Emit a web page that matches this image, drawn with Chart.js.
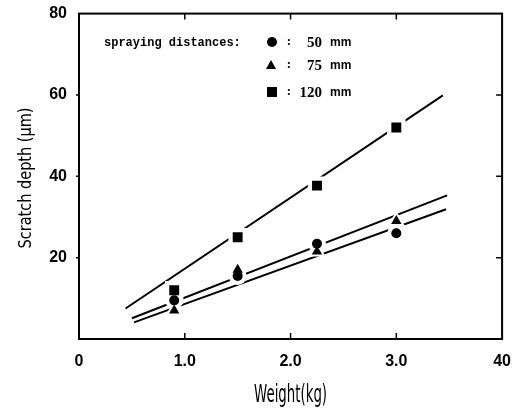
<!DOCTYPE html>
<html lang="en">
<head>
  <meta charset="UTF-8" />
  <title>Scratch depth vs Weight</title>
  <script src="https://cdn.jsdelivr.net/npm/chart.js"></script>
  <style>
    body { margin: 0; background: #fff; }
    canvas { display: block; }
  </style>
</head>
<body>
  <canvas id="scratchChart" width="516" height="414"></canvas>
  <script>
    // measured points
    const weights = [0.9, 1.5, 2.25, 3.0];
    const depth50 = [9.5, 15.5, 23.4, 26];
    const depth75 = [7, 17, 21.5, 29];
    const depth120 = [12, 25, 37.7, 52];

    // fitted straight lines (end points)
    const fit50X = [0.52, 3.47];
    const fit50Y = [4.1, 31.9];
    const fit75X = [0.5, 3.48];
    const fit75Y = [5.1, 35.3];
    const fit120X = [0.44, 3.44];
    const fit120Y = [7.5, 59.9];

    const xTickLabels = ['0', '1.0', '2.0', '3.0', '40'];
    const yTickLabels = ['', '20', '40', '60', '80'];
    const legendLabels = ['50', '75', '120'];

    const pts = (xs, ys) => xs.map((x, i) => ({ x: x, y: ys[i] }));

    function lineSet(xs, ys) {
      return { type: 'line', data: pts(xs, ys), borderColor: '#000', borderWidth: 2,
               pointRadius: 0, fill: false, order: 3 };
    }
    // white blot under each marker, so the fitted lines break around it
    function haloSet(ys, style, r) {
      return { data: pts(weights, ys), pointStyle: style, pointRadius: r,
               backgroundColor: '#fff', borderColor: '#fff', borderWidth: 0, order: 2 };
    }
    function markSet(ys, style, r) {
      return { data: pts(weights, ys), pointStyle: style, pointRadius: r,
               backgroundColor: '#000', borderColor: '#000', borderWidth: 0, order: 1 };
    }

    // frame, inward ticks, titles and the legend block
    const decor = {
      id: 'decor',
      afterDraw(chart) {
        const { ctx, chartArea: a, scales: { x, y } } = chart;
        ctx.save();
        ctx.strokeStyle = '#000';
        ctx.lineWidth = 2;
        ctx.strokeRect(a.left, a.top, a.right - a.left, a.bottom - a.top);
        ctx.lineWidth = 1.5;
        ctx.beginPath();
        x.ticks.forEach(t => {
          if (t.value <= x.min || t.value >= x.max) return;
          const px = x.getPixelForValue(t.value);
          ctx.moveTo(px, a.bottom); ctx.lineTo(px, a.bottom - 6);
          ctx.moveTo(px, a.top); ctx.lineTo(px, a.top + 6);
        });
        y.ticks.forEach(t => {
          if (t.value <= y.min || t.value >= y.max) return;
          const py = y.getPixelForValue(t.value);
          ctx.moveTo(a.left - 3, py); ctx.lineTo(a.left, py);
          ctx.moveTo(a.right, py); ctx.lineTo(a.right - 6, py);
        });
        ctx.stroke();

        // axis titles (condensed look)
        ctx.fillStyle = '#000';
        ctx.textAlign = 'center';
        ctx.textBaseline = 'middle';
        ctx.font = '24px "DejaVu Sans"';
        let w = ctx.measureText('Weight(kg)').width;
        ctx.save();
        ctx.translate((a.left + a.right) / 2, 396);
        ctx.scale(73 / w, 1);
        ctx.fillText('Weight(kg)', 0, 0);
        ctx.restore();

        ctx.font = '18px "DejaVu Sans"';
        w = ctx.measureText('Scratch depth (\u03bcm)').width;
        ctx.save();
        ctx.translate(26, 178);
        ctx.rotate(-Math.PI / 2);
        ctx.scale(141 / w, 1);
        ctx.fillText('Scratch depth (\u03bcm)', 0, 0);
        ctx.restore();

        // legend
        ctx.textAlign = 'left';
        ctx.font = 'bold 12px "Liberation Mono"';
        ctx.fillText('spraying distances:', 104, 43);
        const rows = [42, 65, 92];
        const styles = ['circle', 'triangle', 'rect'];
        rows.forEach((ry, i) => {
          ctx.fillStyle = '#000';
          ctx.beginPath();
          if (styles[i] === 'circle') {
            ctx.arc(272, ry, 5, 0, Math.PI * 2);
          } else if (styles[i] === 'triangle') {
            ctx.moveTo(271, ry - 5); ctx.lineTo(276, ry + 4); ctx.lineTo(266, ry + 4); ctx.closePath();
          } else {
            ctx.rect(267, ry - 5, 10, 10);
          }
          ctx.fill();
          ctx.font = 'bold 13px "Liberation Serif"';
          ctx.textAlign = 'center';
          ctx.fillText(':', 289, ry);
          ctx.textAlign = 'right';
          ctx.font = 'bold 15px "Liberation Serif"';
          ctx.fillText(legendLabels[i], 322, ry + 1);
          ctx.textAlign = 'left';
          ctx.font = 'bold 12px "Liberation Sans"';
          ctx.fillText('mm', 330, ry + 1);
        });
        ctx.restore();
      }
    };

    const tickFont = { family: '"Liberation Sans", Arial, sans-serif', weight: 'bold', size: 16 };

    new Chart(document.getElementById('scratchChart'), {
      type: 'scatter',
      data: {
        datasets: [
          lineSet(fit50X, fit50Y),
          lineSet(fit75X, fit75Y),
          lineSet(fit120X, fit120Y),
          haloSet(depth50, 'circle', 9),
          haloSet(depth75, 'triangle', 10),
          haloSet(depth120, 'rect', 13),
          markSet(depth50, 'circle', 5),
          markSet(depth75, 'triangle', 6),
          markSet(depth120, 'rect', 7)
        ]
      },
      options: {
        responsive: false,
        animation: false,
        devicePixelRatio: 1,
        layout: { padding: { top: 8, right: 13, left: 0, bottom: 0 } },
        plugins: { legend: { display: false }, tooltip: { enabled: false } },
        scales: {
          x: {
            type: 'linear', min: 0, max: 4,
            afterFit(s) { s.height = 75; },
            grid: { display: false },
            border: { display: false },
            ticks: {
              stepSize: 1, padding: 5, color: '#000', font: tickFont,
              maxRotation: 0, autoSkip: false,
              callback: v => xTickLabels[Math.round(v)]
            }
          },
          y: {
            min: 0, max: 80,
            afterFit(s) { s.width = 79; },
            grid: { display: false },
            border: { display: false },
            ticks: {
              stepSize: 20, padding: 4, color: '#000', font: tickFont,
              callback: v => yTickLabels[Math.round(v / 20)]
            }
          }
        }
      },
      plugins: [decor]
    });
  </script>
</body>
</html>
